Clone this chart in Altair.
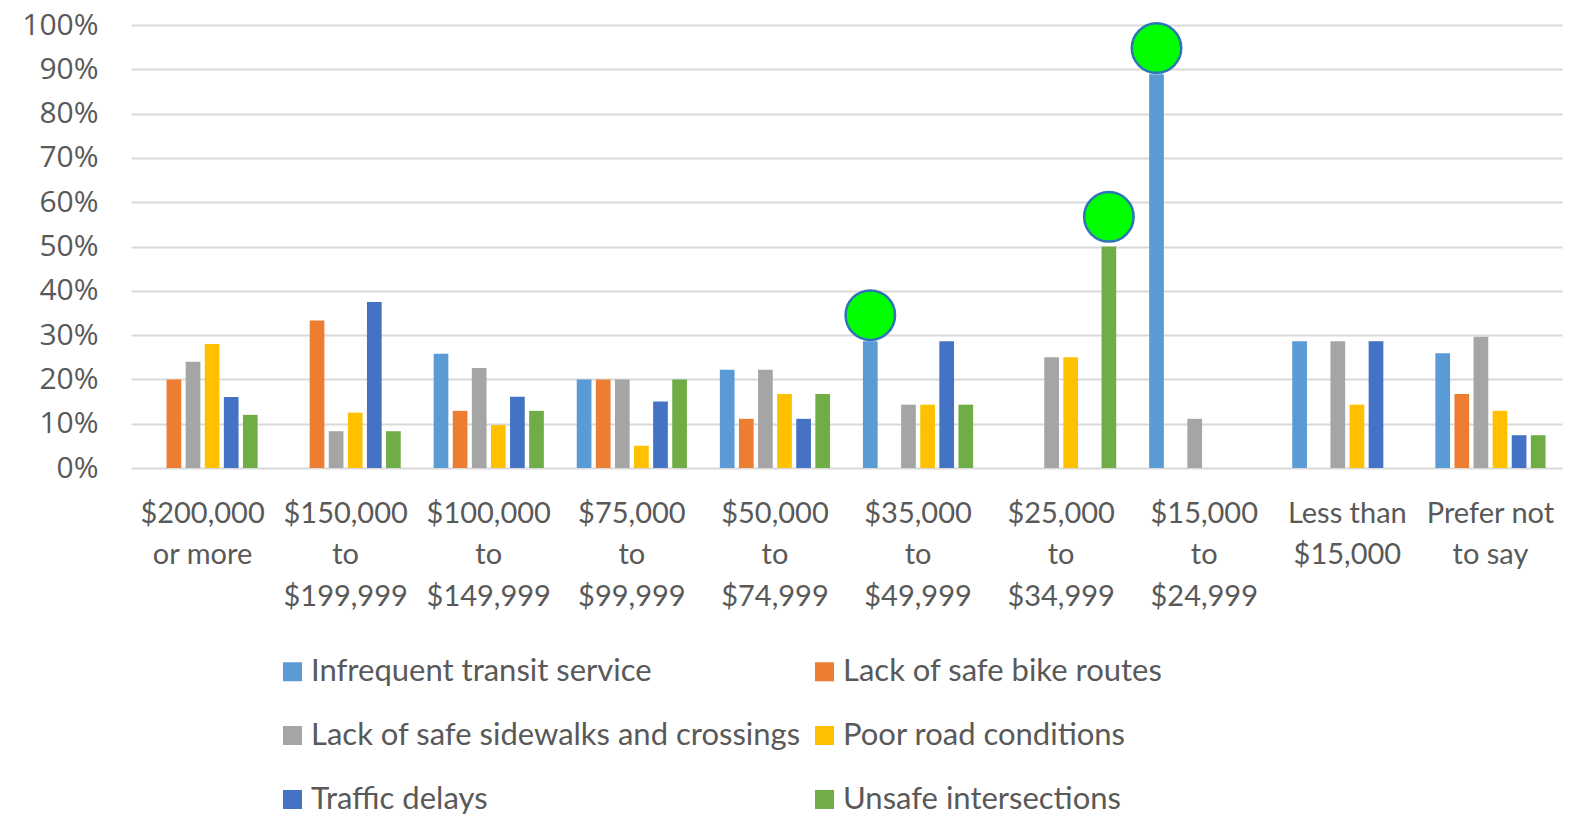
import altair as alt
import pandas as pd

categories = [
    "$200,000|or more", "$150,000|to|$199,999", "$100,000|to|$149,999",
    "$75,000|to|$99,999", "$50,000|to|$74,999", "$35,000|to|$49,999",
    "$25,000|to|$34,999", "$15,000|to|$24,999", "Less than|$15,000",
    "Prefer not|to say",
]
series = [
    "Infrequent transit service", "Lack of safe bike routes",
    "Lack of safe sidewalks and crossings", "Poor road conditions",
    "Traffic delays", "Unsafe intersections",
]
colors = ["#5B9BD5", "#ED7D31", "#A5A5A5", "#FFC000", "#4472C4", "#70AD47"]

infrequent_transit = [0, 0, 25.8, 20, 22.2, 28.6, 0, 88.9, 28.6, 25.9]
bike_routes = [20, 33.3, 12.9, 20, 11.1, 0, 0, 0, 0, 16.7]
sidewalks = [24, 8.3, 22.6, 20, 22.2, 14.3, 25, 11.1, 28.6, 29.6]
road_conditions = [28, 12.5, 9.7, 5, 16.7, 14.3, 25, 0, 14.3, 12.9]
traffic_delays = [16, 37.5, 16.1, 15, 11.1, 28.6, 0, 0, 28.6, 7.4]
unsafe_intersections = [12, 8.3, 12.9, 20, 16.7, 14.3, 50, 0, 0, 7.4]

highlight_categories = [categories[5], categories[6], categories[7]]
highlight_series = [series[0], series[5], series[0]]
highlight_marker_y = [34.5, 56.7, 94.8]

values = [infrequent_transit, bike_routes, sidewalks, road_conditions,
          traffic_delays, unsafe_intersections]
rows = []
for s, vals in zip(series, values):
    for c, v in zip(categories, vals):
        rows.append({"category": c, "series": s, "value": v})
df = pd.DataFrame(rows)
hl = pd.DataFrame({"category": highlight_categories,
                   "series": highlight_series,
                   "marker": highlight_marker_y})

x_enc = alt.X("category:N", sort=categories,
              scale=alt.Scale(paddingInner=0.23, paddingOuter=0.115),
              axis=alt.Axis(title=None, labelExpr="split(datum.label, '|')",
                            labelAngle=0, labelAlign="center",
                            labelFont="Lato", labelFontSize=29,
                            labelColor="#595959", labelLineHeight=41.5,
                            labelPadding=31, labelLimit=0,
                            domain=False, ticks=False, grid=False))
xo_enc = alt.XOffset("series:N", sort=series,
                     scale=alt.Scale(domain=series, paddingInner=0.23,
                                     paddingOuter=0))

bars = alt.Chart(df).mark_bar().encode(
    x=x_enc,
    xOffset=xo_enc,
    y=alt.Y("value:Q",
            scale=alt.Scale(domain=[0, 100]),
            axis=alt.Axis(title=None, values=list(range(0, 101, 10)),
                          labelExpr="datum.value + '%'",
                          labelFont="Open Sans", labelFontSize=30,
                          labelColor="#595959", labelPadding=33,
                          domain=False, ticks=False,
                          gridColor="#D9D9D9", gridWidth=2)),
    color=alt.Color("series:N", sort=series,
                    scale=alt.Scale(domain=series, range=colors),
                    title=None,
                    legend=alt.Legend(orient="none", legendX=146, legendY=631,
                                      columns=2, direction="horizontal",
                                      symbolType="square", symbolSize=361,
                                      symbolStrokeWidth=0,
                                      labelFont="Lato", labelFontSize=31,
                                      labelColor="#595959", labelOffset=3,
                                      labelLimit=800, rowPadding=32,
                                      columnPadding=8, padding=0)),
)

marks = alt.Chart(hl).mark_point(
    shape="circle", filled=True, fill="#00FF00", stroke="#2E75B6",
    strokeWidth=2.5, size=2450, opacity=1,
).encode(
    x=alt.X("category:N", sort=categories),
    xOffset=alt.XOffset("series:N", sort=series),
    y=alt.Y("marker:Q"),
)

chart = alt.layer(bars, marks).properties(
    width=1431, height=443,
    autosize=alt.AutoSizeParams(type="none"),
    padding={"left": 123, "top": 17, "right": 15, "bottom": 346},
).configure_view(stroke=None)

chart.save("out.html", embed_options={"renderer": "svg", "actions": False})
